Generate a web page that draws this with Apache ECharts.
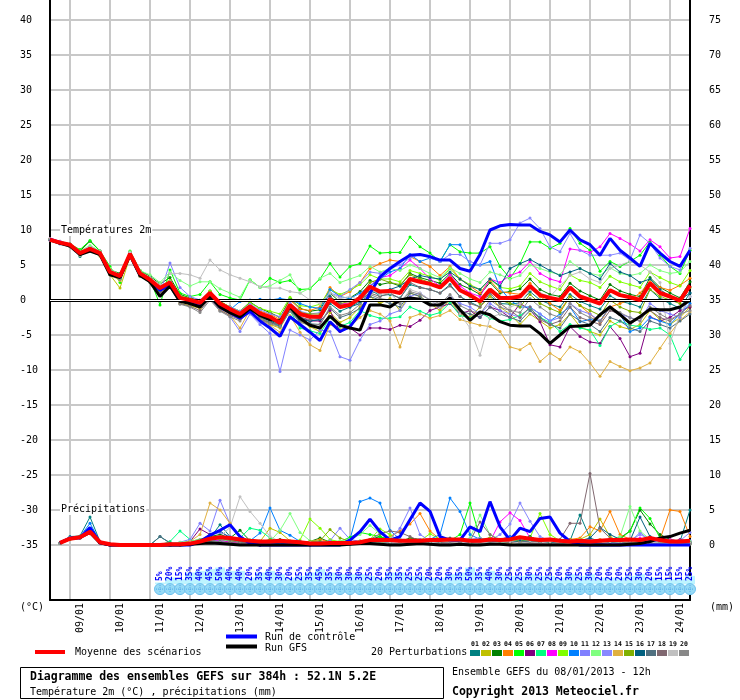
<!DOCTYPE html>
<html><head><meta charset="utf-8">
<script src="https://cdn.jsdelivr.net/npm/echarts@6/dist/echarts.min.js"></script>
<style>html,body{margin:0;padding:0;background:#fff}#c{width:740px;height:700px}</style>
</head><body><div id="c"></div>
<script>
// ---------- tick labels ----------
const dayLabels = ['09/01','10/01','11/01','12/01','13/01','14/01','15/01','16/01','17/01','18/01','19/01','20/01','21/01','22/01','23/01','24/01'];
const leftTicks = [-35,-30,-25,-20,-15,-10,-5,0,5,10,15,20,25,30,35,40];
const rightTicks = [0,5,10,15,20,25,30,35,40,45,50,55,60,65,70,75];
const memberNames = ['01','02','03','04','05','06','07','08','09','10','11','12','13','14','15','16','17','18','19','20'];

// ---------- temperature (°C), 65 steps of 6h from 08/01 12h ----------
const meanT = [8.6,8.2,7.9,6.7,7.3,6.7,4.0,3.4,6.6,3.8, 2.9,1.7,2.5,0.3,0.0,-0.4,1.0,-0.5,-1.3,-2.0, -0.9,-1.9,-2.4,-3.3,-0.7,-2.0,-2.4,-2.4,0.1,-1.0, -0.7,0.3,1.9,1.2,1.3,1.0,3.0,2.6,2.3,1.8, 3.1,1.4,0.7,-0.2,1.5,0.3,0.3,0.5,2.0,0.7, 0.3,0.0,1.8,0.5,0.0,-0.5,1.4,0.7,0.4,0.0, 2.4,1.0,0.5,-0.1,2.1];
const ctrlT = [8.7,8.2,7.8,6.6,7.2,6.6,3.9,3.3,6.5,3.6, 2.8,1.4,2.2,0.0,-0.4,-0.8,0.5,-1.0,-1.8,-2.6, -1.6,-3.0,-4.0,-5.2,-2.4,-3.5,-4.6,-5.8,-3.1,-4.5, -3.8,-1.9,1.0,3.3,4.5,5.5,6.4,6.5,6.2,5.7, 5.7,4.5,4.1,6.5,10.0,10.6,10.8,10.7,10.7,9.8, 9.3,8.3,10.0,8.6,7.9,6.4,8.8,7.1,6.0,4.8, 8.1,6.7,5.5,4.8,7.1];
const gfsT = [8.6,8.1,7.7,6.5,7.0,6.5,3.6,3.2,6.4,3.5, 2.6,0.5,2.0,-0.2,-0.5,-1.0,0.5,-1.0,-1.8,-2.4, -1.2,-2.2,-2.8,-3.0,-1.0,-2.6,-3.6,-4.0,-2.3,-3.6, -4.0,-4.3,-0.7,-0.7,-1.0,0.0,0.3,0.1,-0.7,-0.7, 0.3,-1.4,-2.9,-1.7,-2.1,-3.1,-3.6,-3.7,-3.7,-4.8, -6.2,-5.0,-3.8,-3.7,-3.6,-2.1,-1.0,-2.1,-3.3,-2.4, -1.3,-1.4,-1.4,-1.0,0.0];

const t01 = [8.7,8.3,7.9,6.2,7.5,6.8,4.2,3.6,6.8,3.9, 3.2,1.8,2.6,0.2,-0.3,-0.8,0.6,-0.9,-1.6,-2.3, -1.2,-2.2,-2.8,-3.5,-1.2,-2.6,-3.0,-2.8,-0.5,-1.6, -1.0,-0.2,1.5,0.6,0.8,0.3,2.2,1.8,1.5,1.0, 2.2,0.5,-0.3,-1.0,0.6,-0.5,-0.6,-0.4,1.2,0.0, -0.6,-1.0,0.8,-0.2,-0.8,-1.3,0.6,-0.2,-0.5,-1.0, 1.5,0.2,-0.5,-1.2,1.0];
const t02 = [8.6,8.1,7.6,6.5,7.0,6.3,3.6,1.7,6.2,3.4, 2.5,1.0,2.0,-0.5,-0.8,-1.2,0.4,-1.2,-2.0,-2.6, -1.0,-2.5,-3.5,-4.0,-1.5,-3.0,-3.8,-4.5,-1.8,-3.2, -2.5,-1.0,0.5,-0.5,0.2,-1.5,1.0,0.5,-0.5,-1.5, 0.0,-2.0,-2.5,-1.0,0.5,-1.0,-2.0,-3.5,-2.0,-3.0, -4.0,-3.5,-2.0,-3.8,-4.5,-5.0,-3.0,-3.8,-4.2,-3.5, -1.5,-2.8,-3.5,-2.5,-1.0];
const t03 = [8.7,8.3,8.0,7.0,8.4,7.0,4.3,3.8,6.9,4.2, 3.4,2.3,3.2,0.8,0.3,-0.1,1.3,-0.2,-1.0,-1.6, -0.3,-1.2,-1.8,-2.5,0.2,-1.2,-1.6,-1.4,1.0,-0.3, 0.3,1.2,2.8,2.2,2.5,2.0,3.8,3.2,2.8,2.4, 3.8,2.2,1.6,0.8,2.5,1.0,1.2,1.6,3.0,1.5, 0.8,0.5,2.4,1.3,0.6,0.0,2.2,1.3,0.8,0.5, 3.2,1.8,1.0,0.3,2.6];
const t04 = [8.6,8.2,7.9,6.8,7.4,6.9,4.4,3.5,6.7,4.0, 3.0,1.9,2.8,0.5,0.0,-0.3,1.2,-0.6,-1.2,-1.8, -0.6,-1.6,-2.0,-2.8,0.0,-1.3,-1.5,-1.0,1.8,0.5, 1.2,2.5,4.5,5.2,5.7,5.5,6.2,5.5,4.8,3.5, 4.8,3.0,2.0,1.0,2.8,1.2,1.0,0.8,2.4,0.5, -0.5,-1.5,0.5,-0.8,-2.0,-3.2,-1.0,-0.5,0.0,1.0, 2.6,1.8,1.4,2.1,3.1];
const t05 = [8.7,8.4,8.0,7.2,8.5,7.0,4.8,2.5,7.0,4.2, 3.0,-0.7,4.3,1.0,0.5,0.8,2.6,0.8,0.3,0.0, 2.9,1.8,3.1,2.5,2.8,1.5,1.6,3.0,5.2,3.3, 4.8,5.2,7.7,6.7,6.8,6.8,9.0,7.6,6.7,5.5, 7.9,6.9,6.7,6.7,7.6,4.8,3.1,5.2,8.3,8.3, 7.4,8.1,10.2,8.1,7.1,4.1,5.5,4.8,5.5,6.4, 8.3,6.4,4.8,3.8,7.1];
const t06 = [8.6,8.1,7.7,6.6,7.1,6.5,3.8,3.2,6.4,3.6, 2.8,1.2,2.2,0.0,-0.5,-0.8,0.8,-0.8,-1.6,-2.4, -1.0,-2.0,-2.6,-3.2,-1.0,-2.4,-3.0,-3.0,-1.5,-4.5, -4.0,-5.0,-4.0,-4.0,-4.2,-3.6,-3.8,-2.9,-1.5,-1.0, -0.5,-2.0,-1.5,-2.5,-1.0,-1.5,-2.5,-0.5,-1.4,-3.1, -6.4,-6.7,-3.8,-5.2,-6.0,-6.2,-3.8,-5.5,-8.1,-7.6, -2.4,-3.0,-2.5,-1.5,-1.0];
const t07 = [8.6,8.2,7.8,6.6,7.2,6.6,3.9,3.0,6.5,3.7, 2.7,1.4,2.3,0.2,-0.3,-0.6,0.8,-0.8,-1.5,-2.2, -1.0,-2.2,-3.0,-3.8,-1.5,-4.0,-4.4,-4.8,-2.5,-3.8, -3.2,-1.5,-2.2,-2.6,-2.6,-2.4,-1.0,-1.6,-2.2,-1.8, -0.4,-2.2,-2.6,-1.8,-2.6,-3.0,-2.8,-2.2,-1.2,-2.5, -3.2,-4.5,-3.5,-4.0,-4.3,-6.5,-3.8,-3.0,-3.6,-3.8, -4.2,-4.0,-5.0,-8.5,-6.4];
const t08 = [8.8,8.4,8.0,6.9,7.6,7.0,4.3,3.6,6.8,4.0, 3.0,1.6,2.6,0.4,-0.2,-0.6,1.0,-0.6,-1.4,-2.4, -1.0,-2.0,-2.4,-3.0,-0.8,-2.0,-2.2,-2.4,0.4,-0.6, -0.4,0.6,2.0,3.2,3.5,4.5,5.7,4.5,3.0,2.0, 3.6,2.0,1.0,0.5,3.0,2.5,3.5,4.0,5.5,3.8, 3.0,2.6,7.3,7.1,6.8,7.6,9.5,8.8,8.0,7.0, 8.6,7.6,6.0,6.2,10.2];
const t09 = [8.6,8.2,7.8,6.7,7.3,6.7,4.1,3.5,6.6,3.8, 2.9,1.8,2.7,0.6,0.2,-0.2,1.3,-0.2,-1.0,-1.6, -0.4,-1.2,-1.6,-2.0,0.4,-0.8,-1.0,-0.6,1.5,0.8, 1.4,2.2,3.6,3.0,3.0,2.6,4.2,3.8,3.4,2.8, 4.5,3.0,2.2,1.5,3.0,1.8,1.6,2.0,3.8,2.6, 2.0,1.5,3.6,2.8,2.5,1.8,3.4,2.6,2.2,1.8, 4.0,3.2,2.5,2.0,4.2];
const t10 = [8.6,8.2,7.9,6.7,7.3,6.8,4.0,3.4,6.6,3.8, 2.9,1.6,2.5,0.3,0.0,-0.2,0.6,-0.5,-1.4,-0.2, 0.0,0.1,0.0,0.2,0.0,-0.5,-1.0,-1.2,1.5,0.5, 0.2,1.0,2.0,3.0,4.0,4.5,6.5,5.5,6.0,5.5, 7.9,7.9,5.0,5.0,5.5,1.7,0.0,-1.0,-1.0,-2.0, -3.0,-2.0,-1.0,-3.1,-2.8,-3.0,-1.0,-2.0,-4.5,-4.0, -2.5,-3.0,-3.5,-2.0,-0.5];
const t11 = [8.5,8.0,7.6,6.4,7.0,6.4,3.8,3.2,6.4,3.6, 2.8,1.0,5.3,1.8,0.5,0.0,0.8,-1.2,-2.4,-4.5, -2.0,-3.5,-4.8,-10.2,-4.3,-5.0,-5.7,-4.3,-4.5,-8.1, -8.6,-5.7,-3.5,-3.0,-2.0,-1.5,0.5,1.0,0.0,-1.0, 0.5,-0.5,-1.0,-2.0,-0.5,-1.5,-2.0,-2.5,-1.0,-2.0, -3.0,-2.5,-0.5,-1.5,-2.0,-3.0,-1.0,-2.0,-2.5,-3.0, -0.5,-1.5,-2.0,-2.5,0.5];
const t12 = [8.7,8.3,8.0,7.0,7.8,7.0,4.5,3.6,6.9,4.2, 3.6,2.5,4.0,2.8,2.0,2.6,2.6,1.6,1.0,0.4, 2.9,1.8,2.0,2.8,3.6,1.0,1.7,3.1,3.8,2.5, 3.0,3.5,4.8,4.0,4.5,4.2,5.0,4.5,3.8,3.2, 4.6,3.8,3.0,2.5,4.0,3.6,3.0,3.5,5.0,4.5, 4.0,3.6,5.5,4.5,3.8,3.5,4.6,3.8,3.5,3.8, 5.0,4.2,3.8,4.0,5.5];
const t13 = [8.6,8.2,7.8,6.7,7.3,6.7,4.0,3.4,6.6,3.8, 2.9,1.7,2.6,0.5,0.0,-0.4,1.0,-0.4,-1.0,-1.6, -0.6,-1.4,-2.0,-2.4,-0.4,-1.6,-2.0,-1.8,1.0,0.5, 1.5,2.5,4.0,3.8,4.5,5.0,6.0,6.5,6.0,5.5, 6.5,6.5,5.5,5.0,8.1,8.1,8.6,11.0,11.7,10.2, 7.6,6.9,9.5,7.1,6.4,6.4,6.4,6.7,5.7,9.3, 8.1,6.0,4.8,4.3,7.4];
const t14 = [8.6,8.1,7.7,6.4,7.0,6.3,3.6,2.8,6.2,3.4, 2.6,1.3,2.2,0.0,-0.5,-1.2,0.4,-1.4,-2.2,-4.0, -1.4,-2.8,-3.6,-4.6,-2.2,-4.6,-6.4,-7.2,-3.5,-4.2, -3.8,-2.5,-1.5,-2.0,-3.0,-6.7,-2.5,-2.0,-2.6,-2.2, -1.5,-2.8,-3.2,-3.6,-3.8,-4.5,-6.7,-7.1,-6.2,-8.8, -7.6,-8.5,-6.7,-7.4,-9.0,-10.9,-8.8,-9.5,-10.1,-9.7, -9.0,-6.9,-4.8,-2.9,-1.7];
const t15 = [8.7,8.2,7.9,6.8,7.4,6.8,4.1,3.5,6.7,3.9, 3.0,1.5,2.4,0.2,-0.2,-0.5,1.0,-0.7,-1.5,-2.2, -1.0,-2.0,-2.6,-3.0,-0.8,-1.8,-2.0,-2.0,0.5,-0.5, -0.2,0.5,2.5,3.0,2.5,2.2,3.6,3.0,2.5,1.8, 3.2,1.5,0.5,-0.5,1.2,0.0,-0.5,-1.0,0.8,-0.5, -1.2,-1.8,0.5,-0.8,-1.5,-2.2,0.0,-1.0,-1.6,-1.8, 1.5,0.5,0.0,-0.5,1.8];
const t16 = [8.6,8.2,7.9,6.7,7.3,6.7,4.0,3.4,6.6,3.8, 2.9,1.4,2.4,0.0,-0.4,-0.8,0.6,-0.9,-1.8,-2.4, -1.2,-2.4,-3.0,-3.6,-1.4,-2.8,-3.0,-2.8,0.5,-0.8, -1.0,-0.5,1.2,1.0,1.5,2.0,3.0,3.5,3.2,3.0, 4.0,3.0,2.0,1.5,3.0,2.0,4.5,5.2,5.8,5.0, 4.2,3.5,4.0,4.5,3.8,3.0,5.2,4.0,3.5,2.5, 3.0,1.5,0.5,0.0,1.0];
const t17 = [8.6,8.1,7.8,6.6,7.2,6.6,3.9,3.3,6.5,3.7, 2.8,1.2,2.3,-0.2,-0.6,-1.0,0.5,-1.0,-1.8,-2.5, -1.2,-2.5,-3.2,-3.8,-1.5,-3.0,-3.4,-3.5,-1.2,-2.5, -2.0,-1.2,0.5,0.0,-0.5,-1.0,1.0,0.5,-0.5,-1.0, 0.0,-1.5,-2.0,-2.5,-1.0,-2.0,-2.5,-3.0,-1.5,-2.5, -3.5,-4.0,-2.0,-3.0,-3.5,-4.5,-2.5,-3.0,-4.0,-4.5, -3.0,-3.5,-4.0,-3.0,-2.0];
const t18 = [8.6,8.2,7.8,6.6,7.2,6.5,3.7,3.0,6.5,3.5, 2.6,1.0,2.0,-0.5,-0.9,-1.5,0.2,-1.5,-2.2,-2.8, -1.5,-2.8,-3.2,-3.5,-1.0,-2.5,-2.8,-2.6,0.2,-0.5, -0.8,0.0,1.0,0.5,1.0,0.2,2.5,1.8,1.5,1.0, 2.0,0.5,-0.5,-1.0,1.0,-0.5,-1.5,-2.5,-1.0,-2.8, -3.5,-3.0,-1.0,-2.5,-3.0,-3.5,-1.5,-2.0,-3.5,-2.5, -1.5,-2.5,-3.0,-2.0,-0.8];
const t19 = [8.7,8.2,7.9,6.8,7.4,6.8,4.2,3.6,6.8,4.0, 3.2,2.2,3.8,3.8,3.6,3.1,5.7,4.3,3.6,3.1, 2.6,1.9,1.7,1.7,1.2,1.0,0.0,-0.5,1.0,0.2, 0.5,0.0,1.5,0.8,1.0,-0.5,1.5,1.0,0.0,-1.0, 0.5,-2.0,-4.0,-7.9,-2.5,-2.0,-1.0,-0.5,1.5,1.0, 0.5,2.0,3.5,4.0,3.0,2.5,4.5,5.0,5.5,5.0, 4.0,2.5,-6.2,-2.0,0.5];
const t20 = [8.6,8.1,7.7,6.5,7.0,6.4,3.6,3.0,6.3,3.4, 2.5,0.8,1.8,-0.6,-1.0,-1.8,0.0,-1.6,-2.4,-3.0, -1.6,-2.8,-3.4,-3.8,-1.6,-3.2,-3.6,-3.5,-1.0,-2.2, -1.8,-0.6,0.8,0.2,0.0,-0.5,1.2,0.8,0.0,-0.5, 0.8,-0.8,-1.5,-2.0,0.0,-1.0,-1.5,-1.8,0.2,-1.0, -2.0,-2.5,-0.5,-1.8,-2.5,-3.0,-1.0,-1.8,-2.5,-3.0, -1.0,-2.0,-2.8,-2.0,-1.5];

// ---------- precipitation (mm per 6h) ----------
const meanP = [null, 0.3,0.9,1.1,1.9,0.4,0.1,0.0,0.0,0.0,0.0, 0.0,0.1,0.1,0.2,0.5,0.9,1.1,1.0,0.8,0.6, 0.5,0.5,0.6,0.5,0.4,0.2,0.2,0.3,0.3,0.3, 0.4,0.7,0.7,0.7,0.6,0.6,0.6,0.7,0.7,0.8, 0.8,0.6,0.6,0.8,0.7,0.8,1.1,0.9,0.7,0.8, 0.6,0.5,0.6,0.5,0.6,0.7,0.7,0.8,0.7,1.0, 0.7,0.5,0.5,0.6];
const ctrlP = [null, 0.3,1.0,1.0,2.5,0.3,0.0,0.0,0.0,0.0,0.0, 0.0,0.0,0.0,0.0,0.5,1.4,2.1,2.9,1.2,0.2, 0.0,0.0,0.0,0.0,0.0,0.0,0.0,0.0,0.0,0.7, 1.9,3.7,1.9,0.7,1.2,3.6,6.0,4.8,1.2,0.7, 0.7,2.6,1.9,6.2,2.6,0.7,2.4,1.9,3.8,4.0, 1.7,0.5,0.0,0.0,0.0,0.0,0.0,0.0,0.0,0.0, 0.0,0.0,0.0,0.0];
const gfsP = [null, 0.3,0.9,1.1,1.8,0.3,0.0,0.0,0.0,0.0,0.0, 0.0,0.0,0.0,0.1,0.2,0.3,0.2,0.1,0.0,0.0, 0.0,0.0,0.0,0.0,0.0,0.0,0.0,0.0,0.0,0.1, 0.2,0.2,0.1,0.0,0.0,0.1,0.2,0.1,0.0,0.0, 0.1,0.0,0.0,0.1,0.1,0.0,0.0,0.0,0.0,0.0, 0.0,0.0,0.0,0.0,0.0,0.0,0.0,0.1,0.2,0.5, 1.0,1.2,1.7,2.1];

const p01 = [null, 0.3,1.2,1.3,4.0,0.5,0.0,0,0,0,0, 1.2,0.3,0,0.2,0.5,1.0,2.9,1.2,0.4,0.2, 0,0.2,0.4,0.3,0.1,0,0.2,0.4,0.3,0.2, 0.5,0.8,0.6,0.3,0.4,0.6,0.5,0.4,0.8,1.0, 0.5,0.4,0.6,0.8,0.5,0.3,0.6,0.4,0.3,0.5, 0.3,0.6,4.3,1.0,0.5,0.4,0.3,0.6,0.8,0.5, 0.3,0.4,0.5,5.0];
const p02 = [null, 0.3,0.9,1.0,1.8,0.4,0.1,0,0,0,0, 0,0.1,0.3,0.2,0.5,0.8,1.0,0.6,0.3,0.2, 0.5,2.4,1.8,0.6,0.2,0.1,0.3,0.2,0.1,0.3, 0.5,0.3,0.4,0.6,0.2,0.3,0.5,0.4,0.2,0.6, 0.3,0.2,0.4,0.6,0.3,0.2,0.5,0.8,0.4,0.3, 0.6,0.4,0.8,1.5,3.7,1.2,0.4,0.3,0.5,0.4, 0.2,0.3,0.1,0.2];
const p03 = [null, 0.3,1.0,1.2,2.2,0.4,0.1,0,0,0,0, 0,0,0.2,0.5,0.8,1.2,1.5,1.0,2.1,0.6, 0.3,0.4,0.8,0.5,0.2,0.5,1.0,0.4,0.3,0.2, 0.4,0.8,1.2,0.6,0.5,1.0,0.8,0.6,0.4,0.8, 0.5,0.3,0.6,1.0,0.8,0.5,0.8,1.2,0.6,0.4, 0.5,0.8,0.6,0.4,0.6,0.8,1.0,2.0,5.0,3.0, 1.5,0.8,0.5,0.4];
const p04 = [null, 0.3,0.9,1.1,1.6,0.4,0.1,0,0,0,0, 0,0,0,0.2,0.5,1.0,0.8,0.4,0.3,0.2, 0.2,0.3,0.2,0.4,0.3,0.5,0.8,0.4,0.2,0.3, 0.2,0.5,0.8,1.2,2.0,3.0,4.5,2.0,0.8,0.5, 0.6,0.3,0.8,0.5,0.3,0.4,0.6,0.3,0.5,0.4, 0.6,0.8,1.0,2.6,2.0,4.8,1.5,0.8,0.5,0.4, 0.8,5.0,4.8,1.2];
const p05 = [null, 0.3,1.0,1.1,2.4,0.4,0.1,0,0,0,0, 0,0,0.3,0.5,0.6,0.8,1.0,0.8,0.6,0.4, 0.3,0.5,0.4,0.3,0.2,0.5,0.4,0.6,0.5,1.1, 1.8,1.5,1.2,0.8,0.4,0.6,0.8,0.5,0.4,0.6, 1.5,6.0,1.0,0.6,0.4,0.8,0.6,0.5,0.8,0.4, 0.3,0.5,0.8,0.6,0.5,0.4,0.8,2.0,5.3,3.8, 1.0,0.5,0.3,0.4];
const p06 = [null, 0.3,1.0,1.0,1.8,0.3,0.1,0,0,0,0, 0,0,0.2,0.5,2.3,1.5,0.8,0.4,0.2,0.1, 0,0.2,0.3,0.2,0.1,0,0.2,0.3,0.2,0.1, 0.2,0.3,0.5,0.4,0.2,0.3,0.6,0.4,0.2,0.3, 0.2,0.4,0.3,0.5,0.8,1.2,0.6,0.3,0.2,0.4, 0.3,0.5,0.4,0.2,0.3,0.8,0.5,0.3,0.6,0.4, 0.2,0.3,0.8,0.5];
const p07 = [null, 0.3,1.0,1.1,2.0,0.4,0.1,0,0,0,0, 0,0.5,2.0,0.8,0.3,0.5,0.8,0.6,1.0,2.4, 2.1,1.0,0.4,0.3,0.2,0.4,0.5,0.3,0.2,0.3, 0.5,0.4,0.3,0.6,0.8,0.5,0.4,0.3,0.6,0.4, 0.5,0.8,0.6,0.4,0.3,0.6,1.0,0.5,0.4,0.3, 0.4,0.6,0.5,0.3,0.4,0.5,0.3,0.6,0.5,0.4, 0.3,0.2,0.4,0.3];
const p08 = [null, 0.3,1.0,1.1,2.0,0.4,0.1,0,0,0,0, 0,0,0.1,0.3,0.5,0.8,0.6,0.5,0.3,0.2, 0.2,0.3,0.2,0.1,0.2,0.3,0.2,0.4,0.3,0.5, 0.4,0.6,0.8,0.5,0.3,0.4,0.8,0.6,0.3,0.4, 0.3,0.6,0.8,0.5,3.3,4.6,3.5,1.0,0.6,0.8, 0.5,0.3,0.4,0.6,0.8,0.5,0.3,0.4,1.0,0.6, 0.4,0.8,0.5,0.3];
const p09 = [null, 0.3,0.8,1.0,1.7,0.4,0.1,0,0,0,0, 0,0,0.2,0.4,0.6,0.8,1.0,0.6,0.4,0.3, 0.5,0.4,0.3,0.5,0.7,3.7,2.4,0.8,0.4,0.3, 0.6,0.8,2.3,1.5,0.5,0.4,0.6,1.6,0.8,0.5, 0.6,0.4,0.8,1.0,0.6,0.5,0.8,1.0,4.5,1.5, 0.6,0.4,0.5,0.6,0.8,0.5,0.6,0.8,0.5,0.4, 0.3,0.5,0.4,0.3];
const p10 = [null, 0.3,1.1,1.2,3.1,0.5,0.1,0,0,0,0, 0,0,0.2,0.3,0.5,0.8,1.2,0.8,0.4,0.6, 1.7,5.3,2.1,1.4,0.5,0.3,0.2,0.4,0.3,0.8, 6.2,6.7,6.0,2.1,0.8,0.5,0.6,0.8,1.5,6.7, 4.8,1.5,0.8,0.5,0.6,1.2,0.8,0.5,0.6,0.4, 0.3,0.5,0.6,0.4,0.3,0.5,0.4,0.3,0.6,0.4, 0.2,0.3,0.2,0.3];
const p11 = [null, 0.3,1.0,1.1,2.2,0.4,0.1,0,0,0,0, 0,0.2,0.4,0.8,3.1,2.0,6.4,3.0,1.0,0.5, 0.3,0.4,0.6,0.5,0.3,0.4,0.3,0.6,2.4,0.8, 0.5,0.4,0.6,0.8,2.4,5.3,1.5,0.6,0.4,0.5, 0.3,0.5,0.4,0.6,0.8,0.5,0.6,0.4,0.3,0.5, 0.4,0.6,0.5,0.4,0.6,0.8,0.5,0.4,1.8,0.6, 0.4,0.5,0.3,0.6];
const p12 = [null, 0.3,1.0,1.2,2.0,0.4,0.1,0,0,0,0, 0,0.2,0.4,0.5,0.8,1.0,0.8,0.6,0.5,0.8, 0.6,0.5,2.1,4.5,1.8,0.6,0.5,0.4,0.6,0.8, 1.5,2.8,1.6,1.0,0.8,0.6,0.5,0.4,0.8,0.6, 0.5,1.0,4.3,1.5,0.8,0.6,0.8,0.5,0.6,0.8, 0.5,0.6,0.8,0.6,0.5,0.8,1.2,5.5,2.0,0.8, 0.5,0.6,0.4,0.5];
const p13 = [null, 0.3,0.9,1.1,1.8,0.4,0.1,0,0,0,0, 0,0,0.2,0.4,0.6,1.5,1.8,1.2,0.6,0.4, 0.3,0.2,0.4,0.3,0.2,0.4,0.5,0.3,0.2,0.4, 0.5,0.6,0.4,0.8,0.6,0.5,0.8,0.6,0.4,0.5, 0.6,0.8,1.0,0.6,1.5,3.0,6.0,3.4,1.2,0.6, 0.4,0.5,0.6,0.8,0.5,0.4,0.3,0.6,1.5,0.8, 0.5,0.4,0.6,1.8];
const p14 = [null, 0.3,1.0,1.0,1.9,0.4,0.1,0,0,0,0, 0,0,0.2,0.5,1.5,6.0,5.0,3.1,1.0,0.4, 0.3,0.5,0.4,0.2,0.3,0.4,0.3,0.2,0.4,0.3, 0.4,0.5,0.3,0.6,0.4,0.3,0.5,0.4,0.3,0.5, 0.4,0.6,0.5,0.3,0.4,0.6,0.5,0.3,0.4,0.5, 0.3,0.4,0.6,0.5,0.8,0.6,0.4,0.3,0.5,0.4, 0.3,0.4,0.2,0.3];
const p15 = [null, 0.3,1.0,1.1,2.0,0.4,0.1,0,0,0,0, 0,0,0.2,0.3,0.5,0.8,1.2,0.8,0.6,0.5, 0.4,0.8,0.5,0.4,0.3,0.5,0.6,2.2,1.0,0.5, 0.4,0.6,0.5,0.4,0.6,0.8,0.5,0.6,0.4,0.5, 0.6,0.5,0.4,0.6,0.8,0.5,0.6,0.8,0.5,0.4, 0.6,0.5,0.4,0.3,0.5,0.6,0.8,0.6,0.5,0.4, 0.3,0.5,0.4,0.3];
const p16 = [null, 0.3,1.0,1.1,2.1,0.4,0.1,0,0,0,0, 0,0,0.1,0.3,0.6,1.5,2.0,1.0,0.5,0.3, 0.2,0.3,0.2,0.4,0.3,0.2,0.4,0.3,0.2,0.3, 0.4,0.3,0.6,0.8,0.5,0.4,0.6,0.5,0.4,0.3, 0.5,0.4,0.8,0.6,0.5,0.4,0.6,0.5,0.4,0.3, 0.5,0.4,0.6,1.0,2.5,1.5,0.8,0.6,4.0,1.2, 0.6,0.5,0.4,0.3];
const p17 = [null, 0.3,1.0,1.1,2.0,0.4,0.1,0,0,0,0, 1.2,0.3,0.1,0.2,0.4,0.6,0.5,0.3,0.2,0.1, 0.1,0.2,0.3,0.2,0.1,0.2,0.3,0.2,0.1,0.2, 0.3,0.4,0.5,0.3,0.2,0.4,0.3,0.2,0.3,0.4, 0.3,0.2,0.4,0.3,0.5,0.4,0.3,0.2,0.4,0.3, 0.2,0.3,0.4,0.3,0.2,0.4,0.3,0.5,0.4,0.3, 0.2,0.3,0.2,0.3];
const p18 = [null, 0.3,1.0,1.1,2.0,0.4,0.1,0,0,0,0, 0,0,0.1,0.2,0.4,0.8,1.0,0.6,0.4,0.3, 0.2,0.3,0.2,0.1,0.2,0.3,0.2,0.1,0.2,0.3, 0.4,0.8,1.6,2.0,1.8,1.2,0.6,0.4,0.3,0.5, 0.4,0.6,3.3,1.5,0.6,0.4,0.3,0.5,0.4,0.6, 0.8,3.1,3.1,10.2,2.4,1.0,0.5,0.4,0.6,0.3, 0.2,0.4,0.3,0.2];
const p19 = [null, 0.3,1.0,1.1,2.0,0.4,0.1,0,0,0,0, 0,0,0.2,0.4,0.6,0.8,1.2,2.5,6.9,4.8, 3.1,1.2,0.5,0.3,0.2,0.4,0.3,0.2,0.4,0.3, 0.4,0.3,0.5,0.4,0.3,0.5,0.4,0.3,0.5,0.4, 0.3,0.5,0.4,0.3,0.4,0.5,0.3,0.4,0.3,0.5, 0.4,0.3,0.5,0.4,0.3,0.5,0.4,0.6,0.3,0.4, 0.3,0.2,0.4,0.3];
const p20 = [null, 0.3,1.0,1.1,1.9,0.4,0.1,0,0,0,0, 0,0,0.1,0.2,0.3,0.5,0.4,0.3,0.2,0.1, 0.1,0.2,0.1,0.2,0.1,0.1,0.2,0.1,0.2,0.1, 0.2,0.3,0.2,0.1,0.2,0.3,0.2,0.1,0.2,0.3, 0.2,0.1,0.2,0.3,0.2,0.1,0.2,0.3,0.2,0.1, 0.2,0.1,0.2,0.3,0.2,0.1,0.2,0.1,0.2,0.1, 0.2,0.1,0.2,0.1];

// ---------- percentages shown in the bottom strip ----------
const stripPct = [null,null,null,null,null,null,null,null,null,null,null, 5,20,15,35,40,45,50,40,40,20, 35,40,30,20,25,35,45,35,30,30, 30,25,20,35,35,25,25,20,20,30, 35,50,35,40,30,25,25,30,25,25, 20,30,25,30,20,20,20,25,30,20, 15,15,15,25];

// ---------- styles / layout ----------
const memberColors = ['#008080','#C0C000','#008000','#FF8000','#00FF00','#800080','#00FF80','#FF00FF','#80FF00','#0080FF','#8080FF','#80FF80','#8888FF','#E0B040','#80B000','#006080','#507080','#806870','#C0C0C0','#888888'];
const FONT = '"DejaVu Sans Mono", monospace';
const GRID_C = '#C8C8C8';
const tempSets = [t01,t02,t03,t04,t05,t06,t07,t08,t09,t10,t11,t12,t13,t14,t15,t16,t17,t18,t19,t20];
const precSets = [p01,p02,p03,p04,p05,p06,p07,p08,p09,p10,p11,p12,p13,p14,p15,p16,p17,p18,p19,p20];
const NSTEP = meanT.length;
const stepCats = [];
for (let k = 0; k < NSTEP; k++) stepCats.push('+' + (k * 6) + 'h');
const HALF = 300 / 7;          // half height of temperature scale in °C
const PREC_SHIFT = 35;         // precip 0 mm sits on -35 °C line
const STRIP_BASE = -40.6, SNOW_LEVEL = -41.3, TEXT_LEVEL = -40.15;

const series = [];
// 0 °C double line
series.push({type:'line', data:[], yAxisIndex:0, z:1, silent:true,
  markLine:{silent:true, symbol:'none', label:{show:false}, animation:false,
    data:[{yAxis:0, lineStyle:{color:'#000', width:3, type:'solid'}},
          {yAxis:0, lineStyle:{color:'#fff', width:1, type:'solid'}}]}});
// strip
series.push({type:'custom', yAxisIndex:0, z:1, clip:false, silent:true,
  data: stripPct.map((v,k)=> v==null ? null : [k, v]).filter(Boolean),
  renderItem: function(params, api){
    const k = api.value(0), v = api.value(1);
    const base = api.coord([k, STRIP_BASE]);
    const top = api.coord([k, STRIP_BASE + v / 21]);
    const w = api.size([1,0])[0];
    const s = api.coord([k, SNOW_LEVEL]);
    const t = api.coord([k, TEXT_LEVEL]);
    const c = '#4FA9E6';
    return {type:'group', children:[
      {type:'rect', shape:{x:base[0]-w/2, y:top[1], width:w, height:base[1]-top[1]}, style:{fill:'#BDF4FF'}},
      {type:'circle', shape:{cx:s[0], cy:s[1], r:5.5}, style:{fill:'#96DAF6', stroke:'#6CC0EE', lineWidth:1}},
      {type:'line', shape:{x1:s[0]-4, y1:s[1], x2:s[0]+4, y2:s[1]}, style:{stroke:c, lineWidth:1, lineDash:[1,1]}},
      {type:'line', shape:{x1:s[0], y1:s[1]-4, x2:s[0], y2:s[1]+4}, style:{stroke:c, lineWidth:1, lineDash:[1,1]}},
      {type:'text', x:t[0], y:t[1], rotation:Math.PI/2, style:{text:v+'%', fill:'#0000FF', font:'bold 8px '+FONT, align:'left', verticalAlign:'middle'}}
    ]};
  }});
// perturbations
tempSets.forEach((d,i)=>{
  series.push({type:'line', name:'T'+memberNames[i], data:d, yAxisIndex:0, z:2, silent:true,
    symbol:'circle', symbolSize:3, lineStyle:{width:1, color:memberColors[i]}, itemStyle:{color:memberColors[i]}});
});
precSets.forEach((d,i)=>{
  series.push({type:'line', name:'P'+memberNames[i], data:d, yAxisIndex:1, z:2, silent:true,
    symbol:'circle', symbolSize:3, lineStyle:{width:1, color:memberColors[i]}, itemStyle:{color:memberColors[i]}});
});
// control, GFS, mean
[[ctrlT,0,'#0000FF',3],[ctrlP,1,'#0000FF',3],[gfsT,0,'#000000',3],[gfsP,1,'#000000',3],[meanT,0,'#FF0000',4],[meanP,1,'#FF0000',4]].forEach((a,i)=>{
  series.push({type:'line', data:a[0], yAxisIndex:a[1], z: i>=4 ? 5 : 4, silent:true, showSymbol:false,
    lineStyle:{width:a[3], color:a[2]}, itemStyle:{color:a[2]}});
});

// graphics
function T(x,y,text,extra){ return {type:'text', x:x, y:y, silent:true, z:10,
  style:Object.assign({text:text, fill:'#000', font:'10px '+FONT, align:'left', verticalAlign:'middle'}, extra||{})}; }
const graphics = [
  T(20,607,'(°C)'), T(710,607,'(mm)'),
  T(60,230,'Températures 2m',{backgroundColor:'#fff', padding:[1,1]}),
  T(60,509,'Précipitations',{backgroundColor:'#fff', padding:[1,1]}),
  {type:'line', shape:{x1:35,y1:652,x2:65,y2:652}, style:{stroke:'#FF0000', lineWidth:4}},
  T(75,652,'Moyenne des scénarios'),
  {type:'line', shape:{x1:226,y1:636.5,x2:257,y2:636.5}, style:{stroke:'#0000FF', lineWidth:4}},
  {type:'line', shape:{x1:226,y1:646.5,x2:257,y2:646.5}, style:{stroke:'#000000', lineWidth:4}},
  T(265,637,'Run de contrôle'), T(265,648,'Run GFS'),
  T(371,652,'20 Perturbations'),
  {type:'rect', shape:{x:20.5,y:667.5,width:423,height:31}, style:{fill:'none', stroke:'#000', lineWidth:1}},
  T(30,677,'Diagramme des ensembles GEFS sur 384h : 52.1N 5.2E',{font:'bold 11.5px '+FONT}),
  T(30,692,'Température 2m (°C) , précipitations (mm)'),
  T(452,672,'Ensemble GEFS du 08/01/2013 - 12h'),
  T(452,692,'Copyright 2013 Meteociel.fr',{font:'bold 11.5px '+FONT})
];
memberNames.forEach((n,i)=>{
  graphics.push(T(475+11*i, 644, n, {align:'center', font:'bold 6.5px '+FONT}));
  graphics.push({type:'rect', shape:{x:470+11*i, y:650, width:10, height:6}, style:{fill:memberColors[i]}});
});

const chart = echarts.init(document.getElementById('c'), null, {renderer:'canvas'});
chart.setOption({
  animation:false,
  backgroundColor:'#fff',
  textStyle:{fontFamily:FONT},
  grid:{left:50, right:50, top:0, bottom:100, containLabel:false, outerBoundsMode:'none'},
  xAxis:{type:'category', data:stepCats, boundaryGap:false,
    axisLine:{onZero:false, lineStyle:{color:'#000', width:2}},
    axisTick:{show:false},
    axisLabel:{interval:0, rotate:90, margin:3, fontFamily:FONT, fontSize:10, color:'#000',
      formatter:function(v,i){ return (i%4===3) ? dayLabels[(i-3)/4] : ''; }},
    splitLine:{show:true, interval:function(i){ return i%4===2; }, lineStyle:{color:GRID_C, width:2}}},
  yAxis:[
    {type:'value', position:'left', min:-HALF, max:HALF,
      axisLine:{show:true, onZero:false, lineStyle:{color:'#000', width:2}},
      axisTick:{show:false, customValues:leftTicks},
      axisLabel:{customValues:leftTicks, align:'left', margin:30, fontFamily:FONT, fontSize:10, color:'#000'},
      splitLine:{show:true, lineStyle:{color:GRID_C, width:2}}},
    {type:'value', position:'right', min:PREC_SHIFT-HALF, max:PREC_SHIFT+HALF,
      axisLine:{show:true, onZero:false, lineStyle:{color:'#000', width:2}},
      axisTick:{show:false, customValues:rightTicks},
      axisLabel:{customValues:rightTicks, align:'left', margin:19, fontFamily:FONT, fontSize:10, color:'#000'},
      splitLine:{show:false}}
  ],
  series:series,
  graphic:graphics
});
</script>
</body></html>
